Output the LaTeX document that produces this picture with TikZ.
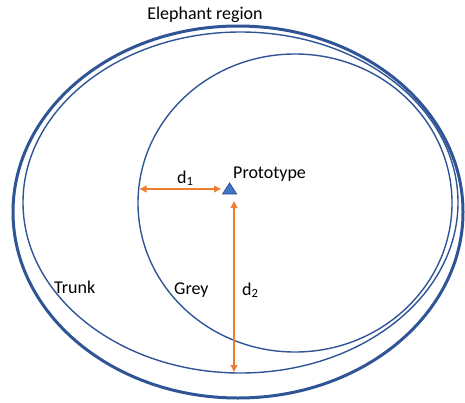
\documentclass[tikz,border=0pt]{standalone}
\usepackage{fontspec}
\setmainfont{Carlito}
\usetikzlibrary{shapes.geometric,arrows.meta}
\definecolor{ringblue}{HTML}{2F5597}
\definecolor{protofill}{HTML}{4472C4}
\definecolor{protoedge}{HTML}{2F528F}
\definecolor{arrorange}{HTML}{ED7D31}
\tikzset{
  region/.style={draw=ringblue, ellipse, inner sep=0pt, line width=1.4pt},
  outerregion/.style={region, line width=3pt},
  lbl/.style={font=\fontsize{18}{21}\selectfont, inner sep=0pt, text=black},
  dist/.style={draw=arrorange, line width=1.8pt, {Triangle[length=7pt,width=6.5pt]}-{Triangle[length=7pt,width=6.5pt]}},
}
\begin{document}
\begin{tikzpicture}[x=1pt,y=-1pt]
\useasboundingbox (0,0) rectangle (465,402);
\node[outerregion, minimum width=450pt, minimum height=372pt] (elephant) at (238,212) {};
\node[region, minimum width=435pt, minimum height=341pt] (trunk) at (240.5,202.5) {};
\node[region, minimum width=314pt, minimum height=298pt] (grey) at (295,203) {};
\coordinate (pa) at (229.6,183);
\coordinate (pl) at (222.6,194);
\coordinate (pr) at (236.6,194);
\draw[fill=protofill, draw=protoedge, line width=0.8pt, line join=miter] (pa) -- (pr) -- (pl) -- cycle;
\coordinate (d1s) at (139.5,189);
\coordinate (d1e) at (221,189);
\coordinate (d2s) at (234,201);
\coordinate (d2e) at (234,372);
\draw[dist] (d1s) -- (d1e);
\draw[dist] (d2s) -- (d2e);
\node[lbl, anchor=base] (title) at (205,19) {Elephant region};
\node[lbl, anchor=base west] (protolbl) at (233,178) {Prototype};
\node[lbl, anchor=base west] (d1lbl) at (177,183) {d\textsubscript{1}};
\node[lbl, anchor=base west] (trunklbl) at (54,293) {Trunk};
\node[lbl, anchor=base west] (greylbl) at (174,294) {Grey};
\node[lbl, anchor=base west] (d2lbl) at (242,295) {d\textsubscript{2}};
\end{tikzpicture}
\end{document}
